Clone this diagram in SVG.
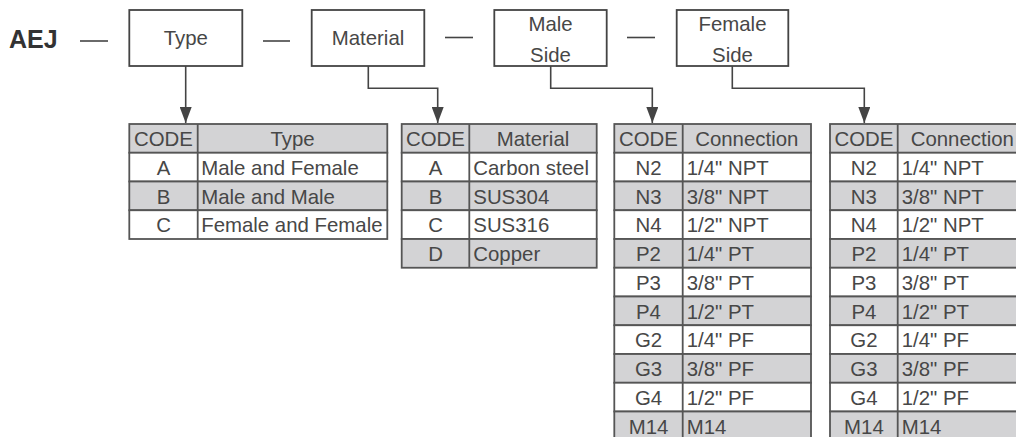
<svg xmlns="http://www.w3.org/2000/svg" width="1016" height="437" viewBox="0 0 1016 437">
<defs>
<style>
.t{font-family:"Liberation Sans",Arial,sans-serif;font-size:20.4px;fill:#474747}
.c{text-anchor:middle}
.box{fill:#fff;stroke:#444;stroke-width:1.8}
.g{fill:#d3d3d5;stroke:#555;stroke-width:1.8}
.w{fill:#fff;stroke:#555;stroke-width:1.8}
.sp{stroke:#555;stroke-width:1.8}
.ln{fill:none;stroke:#444;stroke-width:1.6}
</style>
<marker id="ah" viewBox="0 0 16 12" refX="16" refY="6" markerWidth="16" markerHeight="12" markerUnits="userSpaceOnUse" orient="auto">
<path d="M0,0 L16,6 L0,12 z" fill="#444"/>
</marker>
</defs>
<rect width="1016" height="437" fill="#fff"/>

<g id="title">
<text x="9" y="48" style="font-family:'Liberation Sans',Arial,sans-serif;font-size:25px;font-weight:bold;fill:#333">AEJ</text>
</g>

<g id="connectors">
<line class="ln" x1="80" y1="41" x2="108" y2="41"/>
<line class="ln" x1="263" y1="41" x2="290" y2="41"/>
<line class="ln" x1="445" y1="37.5" x2="473" y2="37.5"/>
<line class="ln" x1="627" y1="37.5" x2="655" y2="37.5"/>
<path class="ln" d="M185.7,66 V123" marker-end="url(#ah)"/>
<path class="ln" d="M368.3,66 V88.3 H437.7 V123" marker-end="url(#ah)"/>
<path class="ln" d="M550.7,66 V88.3 H652.3 V123" marker-end="url(#ah)"/>
<path class="ln" d="M732.3,66 V88.3 H864.3 V123" marker-end="url(#ah)"/>
</g>

<g id="node-type">
<rect class="box" x="129.3" y="10" width="113" height="56"/>
<text class="t c" x="185.8" y="45">Type</text>
</g>
<g id="node-material">
<rect class="box" x="311.7" y="10" width="112.6" height="56"/>
<text class="t c" x="368" y="45">Material</text>
</g>
<g id="node-male">
<rect class="box" x="494.3" y="10" width="112.4" height="56"/>
<text class="t c" x="550.5" y="30.5">Male</text>
<text class="t c" x="550.5" y="62">Side</text>
</g>
<g id="node-female">
<rect class="box" x="676.7" y="10" width="111.6" height="56"/>
<text class="t c" x="732.5" y="30.5">Female</text>
<text class="t c" x="732.5" y="62">Side</text>
</g>

<g id="table-type">
<rect class="g" x="129.3" y="124" width="258" height="28.75"/>
<rect class="w" x="129.3" y="152.75" width="258" height="28.75"/>
<rect class="g" x="129.3" y="181.5" width="258" height="28.75"/>
<rect class="w" x="129.3" y="210.25" width="258" height="28.75"/>
<line class="sp" x1="197.7" y1="124" x2="197.7" y2="239"/>
<text class="t c" x="163.5" y="146">CODE</text><text class="t c" x="292.5" y="146">Type</text>
<text class="t c" x="163.5" y="174.75">A</text><text class="t" x="201.2" y="174.75">Male and Female</text>
<text class="t c" x="163.5" y="203.5">B</text><text class="t" x="201.2" y="203.5">Male and Male</text>
<text class="t c" x="163.5" y="232.25">C</text><text class="t" x="201.2" y="232.25">Female and Female</text>
</g>

<g id="table-material">
<rect class="g" x="401.7" y="124" width="195" height="28.75"/>
<rect class="w" x="401.7" y="152.75" width="195" height="28.75"/>
<rect class="g" x="401.7" y="181.5" width="195" height="28.75"/>
<rect class="w" x="401.7" y="210.25" width="195" height="28.75"/>
<rect class="g" x="401.7" y="239" width="195" height="28.75"/>
<line class="sp" x1="469.3" y1="124" x2="469.3" y2="267.75"/>
<text class="t c" x="435.5" y="146">CODE</text><text class="t c" x="533" y="146">Material</text>
<text class="t c" x="435.5" y="174.75">A</text><text class="t" x="473.3" y="174.75">Carbon steel</text>
<text class="t c" x="435.5" y="203.5">B</text><text class="t" x="473.3" y="203.5">SUS304</text>
<text class="t c" x="435.5" y="232.25">C</text><text class="t" x="473.3" y="232.25">SUS316</text>
<text class="t c" x="435.5" y="261">D</text><text class="t" x="473.3" y="261">Copper</text>
</g>

<g id="table-male">
<rect class="g" x="614.3" y="124" width="196.7" height="28.75"/>
<rect class="w" x="614.3" y="152.75" width="196.7" height="28.75"/>
<rect class="g" x="614.3" y="181.5" width="196.7" height="28.75"/>
<rect class="w" x="614.3" y="210.25" width="196.7" height="28.75"/>
<rect class="g" x="614.3" y="239" width="196.7" height="28.75"/>
<rect class="w" x="614.3" y="267.75" width="196.7" height="28.75"/>
<rect class="g" x="614.3" y="296.5" width="196.7" height="28.75"/>
<rect class="w" x="614.3" y="325.25" width="196.7" height="28.75"/>
<rect class="g" x="614.3" y="354" width="196.7" height="28.75"/>
<rect class="w" x="614.3" y="382.75" width="196.7" height="28.75"/>
<rect class="g" x="614.3" y="411.5" width="196.7" height="28.75"/>
<line class="sp" x1="682.7" y1="124" x2="682.7" y2="440"/>
<text class="t c" x="648.5" y="146">CODE</text><text class="t c" x="746.8" y="146">Connection</text>
<text class="t c" x="648.5" y="174.75">N2</text><text class="t" x="686.7" y="174.75">1/4" NPT</text>
<text class="t c" x="648.5" y="203.5">N3</text><text class="t" x="686.7" y="203.5">3/8" NPT</text>
<text class="t c" x="648.5" y="232.25">N4</text><text class="t" x="686.7" y="232.25">1/2" NPT</text>
<text class="t c" x="648.5" y="261">P2</text><text class="t" x="686.7" y="261">1/4" PT</text>
<text class="t c" x="648.5" y="289.75">P3</text><text class="t" x="686.7" y="289.75">3/8" PT</text>
<text class="t c" x="648.5" y="318.5">P4</text><text class="t" x="686.7" y="318.5">1/2" PT</text>
<text class="t c" x="648.5" y="347.25">G2</text><text class="t" x="686.7" y="347.25">1/4" PF</text>
<text class="t c" x="648.5" y="376">G3</text><text class="t" x="686.7" y="376">3/8" PF</text>
<text class="t c" x="648.5" y="404.75">G4</text><text class="t" x="686.7" y="404.75">1/2" PF</text>
<text class="t c" x="648.5" y="433.5">M14</text><text class="t" x="686.7" y="433.5">M14</text>
</g>

<g id="table-female">
<rect class="g" x="830" y="124" width="197" height="28.75"/>
<rect class="w" x="830" y="152.75" width="197" height="28.75"/>
<rect class="g" x="830" y="181.5" width="197" height="28.75"/>
<rect class="w" x="830" y="210.25" width="197" height="28.75"/>
<rect class="g" x="830" y="239" width="197" height="28.75"/>
<rect class="w" x="830" y="267.75" width="197" height="28.75"/>
<rect class="g" x="830" y="296.5" width="197" height="28.75"/>
<rect class="w" x="830" y="325.25" width="197" height="28.75"/>
<rect class="g" x="830" y="354" width="197" height="28.75"/>
<rect class="w" x="830" y="382.75" width="197" height="28.75"/>
<rect class="g" x="830" y="411.5" width="197" height="28.75"/>
<line class="sp" x1="897.7" y1="124" x2="897.7" y2="440"/>
<text class="t c" x="863.9" y="146">CODE</text><text class="t c" x="962.3" y="146">Connection</text>
<text class="t c" x="863.9" y="174.75">N2</text><text class="t" x="901.7" y="174.75">1/4" NPT</text>
<text class="t c" x="863.9" y="203.5">N3</text><text class="t" x="901.7" y="203.5">3/8" NPT</text>
<text class="t c" x="863.9" y="232.25">N4</text><text class="t" x="901.7" y="232.25">1/2" NPT</text>
<text class="t c" x="863.9" y="261">P2</text><text class="t" x="901.7" y="261">1/4" PT</text>
<text class="t c" x="863.9" y="289.75">P3</text><text class="t" x="901.7" y="289.75">3/8" PT</text>
<text class="t c" x="863.9" y="318.5">P4</text><text class="t" x="901.7" y="318.5">1/2" PT</text>
<text class="t c" x="863.9" y="347.25">G2</text><text class="t" x="901.7" y="347.25">1/4" PF</text>
<text class="t c" x="863.9" y="376">G3</text><text class="t" x="901.7" y="376">3/8" PF</text>
<text class="t c" x="863.9" y="404.75">G4</text><text class="t" x="901.7" y="404.75">1/2" PF</text>
<text class="t c" x="863.9" y="433.5">M14</text><text class="t" x="901.7" y="433.5">M14</text>
</g>
</svg>
